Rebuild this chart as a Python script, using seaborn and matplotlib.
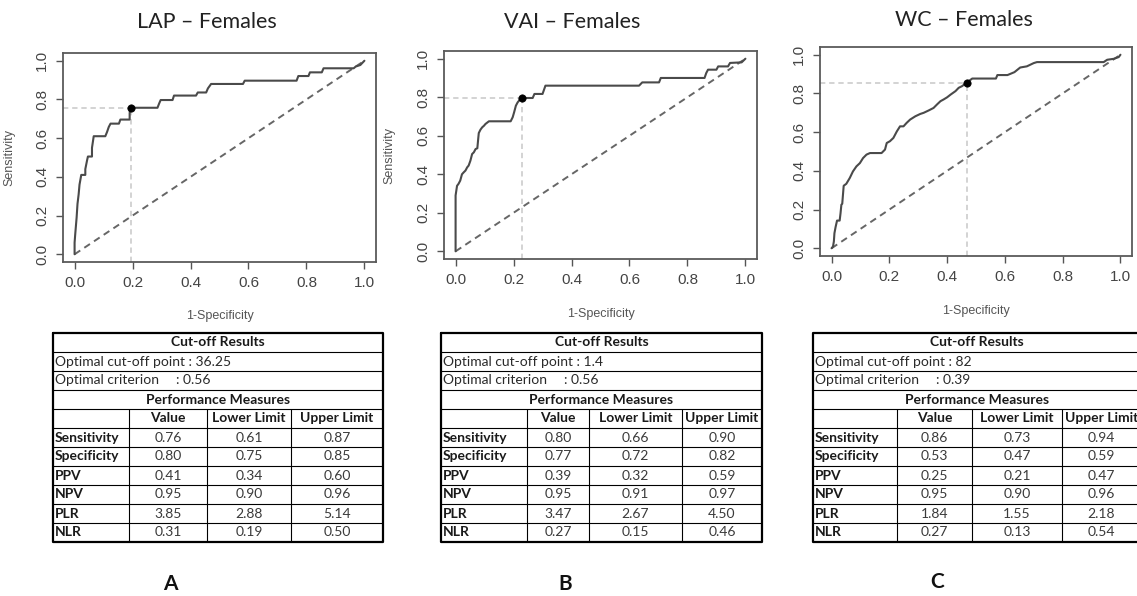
import matplotlib
matplotlib.use("Agg")
import matplotlib.pyplot as plt
import seaborn as sns
import pandas as pd

sns.set_theme(style="white")
plt.rcParams['font.family'] = ['Liberation Sans', 'DejaVu Sans']

# ---------------- data ----------------
titles = ["LAP – Females", "VAI – Females", "WC – Females"]
panel_letters = ["A", "B", "C"]

lap_fpr = [0, 0, 0.002, 0.007, 0.010, 0.014, 0.017, 0.023, 0.037, 0.037, 0.043, 0.046,
           0.060, 0.060, 0.066, 0.106, 0.112, 0.118, 0.124, 0.153, 0.158, 0.190, 0.190,
           0.193, 0.286, 0.292, 0.297, 0.338, 0.343, 0.419, 0.425, 0.454, 0.460, 0.471,
           0.581, 0.587, 0.766, 0.772, 0.807, 0.812, 0.853, 0.859, 0.963, 0.970, 0.986, 1.0]
lap_tpr = [0, 0.06, 0.10, 0.19, 0.26, 0.31, 0.36, 0.41, 0.41, 0.44, 0.485, 0.505,
           0.505, 0.55, 0.61, 0.61, 0.632, 0.658, 0.675, 0.675, 0.696, 0.696, 0.73,
           0.757, 0.757, 0.78, 0.797, 0.797, 0.82, 0.82, 0.836, 0.836, 0.857, 0.88,
           0.88, 0.897, 0.897, 0.921, 0.921, 0.94, 0.94, 0.961, 0.961, 0.97, 0.978, 1.0]

vai_fpr = [0, 0, 0.005, 0.010, 0.016, 0.022, 0.028, 0.034, 0.040, 0.045, 0.051, 0.057,
           0.063, 0.069, 0.075, 0.078, 0.080, 0.086, 0.092, 0.098, 0.103, 0.115, 0.190,
           0.197, 0.202, 0.208, 0.214, 0.226, 0.266, 0.272, 0.300, 0.310, 0.633, 0.644,
           0.702, 0.708, 0.859, 0.865, 0.871, 0.900, 0.906, 0.940, 0.947, 0.987, 1.0]
vai_tpr = [0, 0.29, 0.34, 0.35, 0.367, 0.40, 0.41, 0.419, 0.436, 0.445, 0.47, 0.505,
           0.514, 0.531, 0.535, 0.583, 0.614, 0.632, 0.644, 0.652, 0.661, 0.675, 0.675,
           0.696, 0.722, 0.756, 0.773, 0.796, 0.796, 0.817, 0.817, 0.86, 0.86, 0.877,
           0.877, 0.90, 0.90, 0.926, 0.943, 0.943, 0.96, 0.96, 0.978, 0.981, 1.0]

wc_fpr = [0, 0.005, 0.008, 0.010, 0.014, 0.019, 0.028, 0.031, 0.034, 0.037, 0.042, 0.051,
          0.063, 0.074, 0.086, 0.098, 0.109, 0.121, 0.133, 0.173, 0.185, 0.191, 0.202,
          0.214, 0.226, 0.237, 0.249, 0.260, 0.272, 0.290, 0.307, 0.319, 0.336, 0.353,
          0.365, 0.377, 0.388, 0.400, 0.412, 0.429, 0.440, 0.452, 0.467, 0.487, 0.569,
          0.574, 0.609, 0.633, 0.653, 0.676, 0.700, 0.711, 0.942, 0.954, 0.977, 0.994, 1.0]
wc_tpr = [0, 0.009, 0.035, 0.078, 0.11, 0.143, 0.143, 0.18, 0.225, 0.23, 0.323, 0.333,
          0.363, 0.397, 0.423, 0.44, 0.466, 0.484, 0.492, 0.492, 0.51, 0.544, 0.553,
          0.57, 0.604, 0.63, 0.63, 0.648, 0.665, 0.682, 0.694, 0.70, 0.712, 0.725,
          0.743, 0.76, 0.769, 0.78, 0.794, 0.812, 0.829, 0.838, 0.855, 0.877, 0.877,
          0.895, 0.895, 0.91, 0.934, 0.94, 0.957, 0.962, 0.962, 0.974, 0.979, 0.988, 1.0]

opt_fpr = [0.195, 0.229, 0.468]
opt_tpr = [0.757, 0.796, 0.855]

cutoff_points = ["36.25", "1.4", "82"]
criteria = ["0.56", "0.56", "0.39"]
measures = ["Sensitivity", "Specificity", "PPV", "NPV", "PLR", "NLR"]
col_headers = ["Value", "Lower Limit", "Upper Limit"]
lap_value = ["0.76", "0.80", "0.41", "0.95", "3.85", "0.31"]
lap_lower = ["0.61", "0.75", "0.34", "0.90", "2.88", "0.19"]
lap_upper = ["0.87", "0.85", "0.60", "0.96", "5.14", "0.50"]
vai_value = ["0.80", "0.77", "0.39", "0.95", "3.47", "0.27"]
vai_lower = ["0.66", "0.72", "0.32", "0.91", "2.67", "0.15"]
vai_upper = ["0.90", "0.82", "0.59", "0.97", "4.50", "0.46"]
wc_value = ["0.86", "0.53", "0.25", "0.95", "1.84", "0.27"]
wc_lower = ["0.73", "0.47", "0.21", "0.90", "1.55", "0.13"]
wc_upper = ["0.94", "0.59", "0.47", "0.96", "2.18", "0.54"]

curves = [(lap_fpr, lap_tpr), (vai_fpr, vai_tpr), (wc_fpr, wc_tpr)]
tables = [(lap_value, lap_lower, lap_upper), (vai_value, vai_lower, vai_upper),
          (wc_value, wc_lower, wc_upper)]
tick_vals = [0.0, 0.2, 0.4, 0.6, 0.8, 1.0]

# ---------------- layout (pixels) ----------------
W, H = 1137, 596
roc_boxes = [(63, 53, 376, 262), (444, 51, 757, 259), (820, 47, 1132, 256)]
title_xy = [(207, 22), (572, 22), (964, 20)]
ylab_x = [15, 395, None]
xlab_y = [310, 308, 305]
table_top, row_h = 333, 19
col_edges = [[53, 129, 207, 291, 383], [441, 527, 589, 682, 762],
             [813, 897, 972, 1062, 1141]]
letter_xy = [(170, 584), (565, 584), (937, 582)]

fig = plt.figure(figsize=(W / 100, H / 100), dpi=100)
fig.patch.set_facecolor("white")

curve_col = "#4a4a4a"
title_font = ["Lato", "DejaVu Sans"]

for i in range(3):
    l, t, r, b = roc_boxes[i]
    ax = fig.add_axes([l / W, 1 - b / H, (r - l) / W, (b - t) / H])
    fpr, tpr = curves[i]
    df = pd.DataFrame({"fpr": fpr, "tpr": tpr})
    diag = pd.DataFrame({"x": [0, 1], "y": [0, 1]})
    sns.lineplot(data=diag, x="x", y="y", ax=ax, color="#666666", lw=1.4,
                 linestyle=(0, (3.5, 2.5)), estimator=None, sort=False)
    ox, oy = opt_fpr[i], opt_tpr[i]
    ax.plot([-0.04, ox], [oy, oy], color="#c8c8c8", lw=1.1, linestyle=(0, (3.5, 2.5)))
    ax.plot([ox, ox], [-0.04, oy], color="#c8c8c8", lw=1.1, linestyle=(0, (3.5, 2.5)))
    sns.lineplot(data=df, x="fpr", y="tpr", ax=ax, color=curve_col, lw=1.5,
                 estimator=None, sort=False)
    sns.scatterplot(x=[ox], y=[oy], ax=ax, color="black", s=28, zorder=5,
                    edgecolor="black", linewidth=0.5)
    ax.set_xlim(-0.04, 1.04)
    ax.set_ylim(-0.04, 1.04)
    ax.set_xticks(tick_vals)
    ax.set_yticks(tick_vals)
    ax.set_xticklabels([f"{v:.1f}" for v in tick_vals])
    ax.set_yticklabels([f"{v:.1f}" for v in tick_vals])
    ax.tick_params(axis="both", direction="out", length=5, width=1.0, color="#555555",
                   labelsize=11, labelcolor="#444444", pad=5, bottom=True, left=True)
    for lab in ax.get_yticklabels():
        lab.set_rotation(90)
        lab.set_va("center")
    for sp in ax.spines.values():
        sp.set_visible(True)
        sp.set_color("#5a5a5a")
        sp.set_linewidth(1.3)
    ax.set_xlabel("1-Specificity", fontsize=9, color="#555555")
    ax.xaxis.set_label_coords(0.5, -(xlab_y[i] - b) / (b - t))
    if ylab_x[i] is not None:
        ax.set_ylabel("Sensitivity", fontsize=9, color="#555555")
        ax.yaxis.set_label_coords(-(l - ylab_x[i]) / (r - l), 0.5)
    else:
        ax.set_ylabel("")
    ax.set_facecolor("white")
    ax.grid(False)
    fig.text(title_xy[i][0] / W, 1 - title_xy[i][1] / H, titles[i], ha="center",
             va="center", fontsize=15.5, color="#222222", family=title_font)

# ---------------- tables ----------------
tax = fig.add_axes([0, 0, 1, 1])
tax.set_xlim(0, W)
tax.set_ylim(H, 0)
tax.axis("off")
tfont = ["Lato", "DejaVu Sans"]
fs = 10

for i in range(3):
    edges = col_edges[i]
    L, R = edges[0], edges[-1]
    top = table_top
    rows = 11
    bottom = top + rows * row_h
    for k in range(1, rows):
        y = top + k * row_h
        tax.plot([L, R], [y, y], color="black", lw=0.8)
    for e in edges[1:-1]:
        tax.plot([e, e], [top + 4 * row_h, bottom], color="black", lw=0.8)
    if i < 2:
        tax.plot([L, R, R, L, L], [top, top, bottom, bottom, top], color="black", lw=1.6)
    else:
        # right border falls outside the visible crop
        tax.plot([R + 10, L, L, R + 10], [top, top, bottom, bottom], color="black", lw=1.6)

    def rc(k):
        return top + (k + 0.5) * row_h

    mid = (L + R) / 2
    tax.text(mid, rc(0), "Cut-off Results", ha="center", va="center", fontsize=fs,
             fontweight="bold", family=tfont, color="#1a1a1a")
    tax.text(L + 2, rc(1), f"Optimal cut-off point : {cutoff_points[i]}", ha="left",
             va="center", fontsize=fs, family=tfont, color="#2a2a2a")
    tax.text(L + 2, rc(2), "Optimal criterion", ha="left", va="center", fontsize=fs,
             family=tfont, color="#2a2a2a")
    tax.text(L + 123, rc(2), f": {criteria[i]}", ha="left", va="center", fontsize=fs,
             family=tfont, color="#2a2a2a")
    tax.text(mid, rc(3), "Performance Measures", ha="center", va="center", fontsize=fs,
             fontweight="bold", family=tfont, color="#1a1a1a")
    for c, hname in enumerate(col_headers):
        cx = (edges[c + 1] + edges[c + 2]) / 2
        tax.text(cx, rc(4), hname, ha="center", va="center", fontsize=fs,
                 fontweight="bold", family=tfont, color="#1a1a1a")
    vals = tables[i]
    for rr, m in enumerate(measures):
        tax.text(L + 2, rc(5 + rr), m, ha="left", va="center", fontsize=fs,
                 fontweight="bold", family=tfont, color="#1a1a1a")
        for c in range(3):
            cx = (edges[c + 1] + edges[c + 2]) / 2
            tax.text(cx, rc(5 + rr), vals[c][rr], ha="center", va="center", fontsize=fs,
                     family=tfont, color="#3a3a3a")
    tax.text(letter_xy[i][0], letter_xy[i][1], panel_letters[i], ha="center", va="center",
             fontsize=15, fontweight="bold", family=tfont, color="#111111")

fig.savefig("out.png", dpi=100, facecolor="white")
